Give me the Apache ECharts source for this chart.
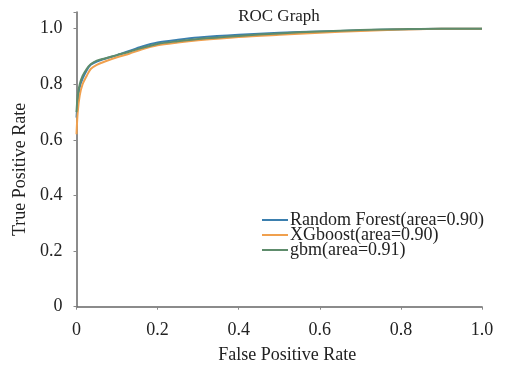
<!DOCTYPE html>
<html><head><meta charset="utf-8">
<script src="https://cdn.jsdelivr.net/npm/echarts@6/dist/echarts.min.js"></script>
<style>html,body{margin:0;padding:0;background:#fff}#c{width:509px;height:371px}</style>
</head><body><div id="c"></div>
<script>
const title = 'ROC Graph';
const xName = 'False Positive Rate';
const yName = 'True Positive Rate';
const xTicks = [0, 0.2, 0.4, 0.6, 0.8, 1.0];
const yTicks = [0, 0.2, 0.4, 0.6, 0.8, 1.0];
const seriesNames = ['Random Forest(area=0.90)', 'XGboost(area=0.90)', 'gbm(area=0.91)'];
const rfFpr  = [0, 0.003, 0.008, 0.015, 0.025, 0.035, 0.05, 0.07, 0.1, 0.13, 0.16, 0.2, 0.25, 0.3, 0.4, 0.5, 0.6, 0.7, 0.8, 0.9, 1];
const rfTpr  = [0.68, 0.74, 0.79, 0.82, 0.85, 0.87, 0.882, 0.892, 0.905, 0.92, 0.935, 0.95, 0.96, 0.968, 0.978, 0.985, 0.99, 0.994, 0.998, 1.0, 1.0];
const xgFpr  = [0, 0.003, 0.008, 0.015, 0.025, 0.035, 0.05, 0.07, 0.1, 0.13, 0.16, 0.2, 0.25, 0.3, 0.4, 0.5, 0.6, 0.7, 0.8, 0.9, 1];
const xgTpr  = [0.62, 0.70, 0.76, 0.80, 0.83, 0.855, 0.87, 0.882, 0.897, 0.91, 0.925, 0.94, 0.95, 0.958, 0.97, 0.978, 0.985, 0.992, 0.997, 1.0, 1.0];
const gbmFpr = [0, 0.003, 0.008, 0.015, 0.025, 0.035, 0.05, 0.07, 0.1, 0.13, 0.16, 0.2, 0.25, 0.3, 0.4, 0.5, 0.6, 0.7, 0.8, 0.9, 1];
const gbmTpr = [0.70, 0.76, 0.80, 0.83, 0.855, 0.872, 0.885, 0.893, 0.905, 0.917, 0.93, 0.945, 0.955, 0.963, 0.974, 0.983, 0.99, 0.995, 0.998, 1.0, 1.0];
const colors = ['#3b7fae', '#f0a04e', '#5e8c6c'];

const zip = (a, b) => a.map((v, i) => [v, b[i]]);
const font = '"Liberation Serif", "DejaVu Serif", serif';
const chart = echarts.init(document.getElementById('c'), null, {renderer: 'canvas'});
const fmt = v => {
  if (v === 0) return '0';
  const ok = xTicks.concat(yTicks).some(t => Math.abs(t - v) < 1e-6);
  return ok ? v.toFixed(1) : '';
};
chart.setOption({
  animation: false,
  backgroundColor: '#fff',
  title: {text: title, left: 274, top: 3, textAlign: 'center',
    textStyle: {fontFamily: font, fontWeight: 'normal', fontSize: 17, color: '#222'}},
  legend: {
    orient: 'vertical', left: 262, top: 211, itemWidth: 26, itemHeight: 2, itemGap: -3,
    icon: 'rect', padding: 0,
    textStyle: {fontFamily: font, fontSize: 18, lineHeight: 16, color: '#222', padding: [0, 0, 0, -3]},
    data: seriesNames
  },
  grid: {left: 76.5, right: 27, top: 12, bottom: 64.3, containLabel: false},
  xAxis: {
    type: 'value', min: 0, max: 1, interval: 0.2,
    name: xName, nameLocation: 'middle', nameGap: 40,
    nameTextStyle: {fontFamily: font, fontSize: 18, color: '#222', padding: [0, 0, 0, 16]},
    axisLine: {show: true, lineStyle: {color: '#666', width: 1.5}},
    axisTick: {show: true, length: 3, inside: false, lineStyle: {color: '#888'}},
    splitLine: {show: false},
    axisLabel: {fontFamily: font, fontSize: 18, color: '#222', margin: 15, formatter: fmt}
  },
  yAxis: {
    type: 'value', min: 0, max: 1.06, interval: 0.2,
    name: yName, nameLocation: 'middle', nameGap: 47, nameRotate: 90,
    nameTextStyle: {fontFamily: font, fontSize: 18, color: '#222', padding: [0, 20, 0, 0]},
    axisLine: {show: true, lineStyle: {color: '#666', width: 1.5}},
    axisTick: {show: true, length: 3, lineStyle: {color: '#888'}},
    splitLine: {show: false},
    axisLabel: {fontFamily: font, fontSize: 18, color: '#222', margin: 14, formatter: fmt}
  },
  series: [
    {name: seriesNames[0], type: 'line', data: zip(rfFpr, rfTpr), showSymbol: false, smooth: 0.3,
      lineStyle: {width: 2, color: colors[0]}, itemStyle: {color: colors[0]}},
    {name: seriesNames[1], type: 'line', data: zip(xgFpr, xgTpr), showSymbol: false, smooth: 0.3,
      lineStyle: {width: 2, color: colors[1]}, itemStyle: {color: colors[1]}},
    {name: seriesNames[2], type: 'line', data: zip(gbmFpr, gbmTpr), showSymbol: false, smooth: 0.3,
      lineStyle: {width: 2, color: colors[2]}, itemStyle: {color: colors[2]}}
  ]
});
</script></body></html>
